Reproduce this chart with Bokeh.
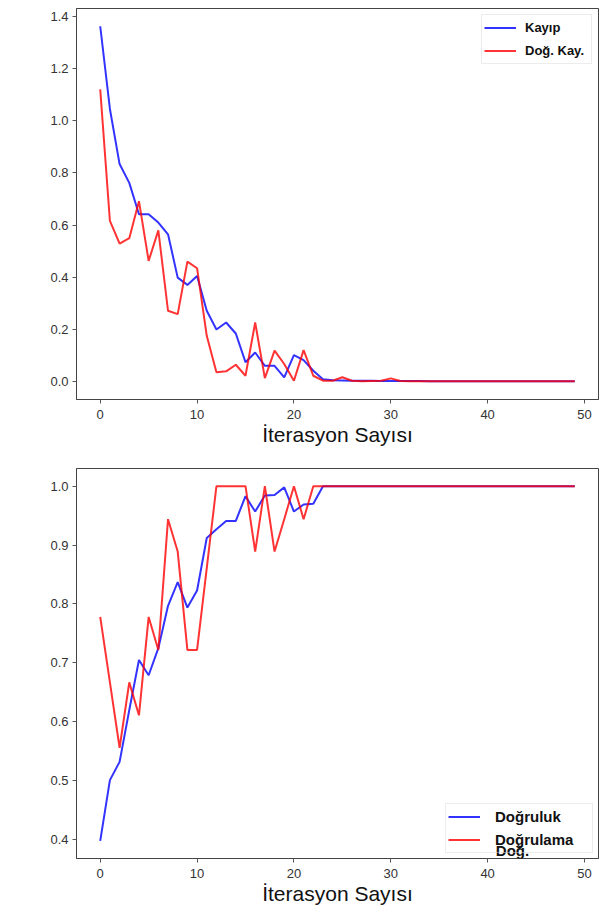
from bokeh.plotting import figure
from bokeh.models import Range1d, FixedTicker, Label, NumeralTickFormatter
from bokeh.layouts import column
from bokeh.embed import file_html
from bokeh.resources import INLINE

epochs = list(range(50))

loss = [1.362, 1.045, 0.834, 0.762, 0.642, 0.642, 0.610, 0.565, 0.399, 0.371,
        0.405, 0.272, 0.200, 0.227, 0.185, 0.075, 0.112, 0.061, 0.061, 0.017,
        0.102, 0.083, 0.042, 0.010, 0.006, 0.005, 0.004, 0.004, 0.004, 0.003,
        0.003, 0.003, 0.003, 0.003, 0.002, 0.002, 0.002, 0.002, 0.002, 0.002,
        0.002, 0.002, 0.002, 0.002, 0.002, 0.002, 0.002, 0.002, 0.002, 0.002]

val_loss = [1.120, 0.616, 0.529, 0.550, 0.692, 0.463, 0.580, 0.272, 0.259, 0.460,
            0.435, 0.176, 0.036, 0.040, 0.065, 0.023, 0.227, 0.014, 0.119, 0.068,
            0.004, 0.121, 0.023, 0.004, 0.004, 0.017, 0.004, 0.002, 0.003, 0.004,
            0.013, 0.003, 0.002, 0.002, 0.002, 0.002, 0.002, 0.002, 0.002, 0.002,
            0.002, 0.002, 0.002, 0.002, 0.002, 0.002, 0.002, 0.002, 0.002, 0.002]

acc = [0.398, 0.501, 0.532, 0.620, 0.705, 0.679, 0.725, 0.797, 0.837, 0.794,
       0.823, 0.912, 0.927, 0.941, 0.941, 0.983, 0.957, 0.984, 0.985, 0.998,
       0.957, 0.969, 0.970, 1.000, 1.000, 1.000, 1.000, 1.000, 1.000, 1.000,
       1.000, 1.000, 1.000, 1.000, 1.000, 1.000, 1.000, 1.000, 1.000, 1.000,
       1.000, 1.000, 1.000, 1.000, 1.000, 1.000, 1.000, 1.000, 1.000, 1.000]

val_acc = [0.778, 0.667, 0.556, 0.667, 0.611, 0.778, 0.722, 0.944, 0.889, 0.722,
           0.722, 0.861, 1.000, 1.000, 1.000, 1.000, 0.889, 1.000, 0.889, 0.944,
           1.000, 0.944, 1.000, 1.000, 1.000, 1.000, 1.000, 1.000, 1.000, 1.000,
           1.000, 1.000, 1.000, 1.000, 1.000, 1.000, 1.000, 1.000, 1.000, 1.000,
           1.000, 1.000, 1.000, 1.000, 1.000, 1.000, 1.000, 1.000, 1.000, 1.000]

x_ticks = [0, 10, 20, 30, 40, 50]
loss_ticks = [0.0, 0.2, 0.4, 0.6, 0.8, 1.0, 1.2, 1.4]
acc_ticks = [0.4, 0.5, 0.6, 0.7, 0.8, 0.9, 1.0]

x_label = "İterasyon Sayısı"
FONT = "Liberation Sans"


def style(p, yticks):
    p.xgrid.visible = False
    p.ygrid.visible = False
    p.outline_line_color = "#444444"
    p.outline_line_width = 1
    p.background_fill_color = "white"
    p.border_fill_color = "white"
    p.xaxis.ticker = FixedTicker(ticks=x_ticks)
    p.yaxis.ticker = FixedTicker(ticks=yticks)
    p.yaxis.formatter = NumeralTickFormatter(format="0.0")
    for ax in (p.xaxis[0], p.yaxis[0]):
        ax.axis_line_color = "#444444"
        ax.major_tick_line_color = "#555555"
        ax.major_tick_out = 4
        ax.major_tick_in = 0
        ax.minor_tick_line_color = None
        ax.major_label_text_font = FONT
        ax.major_label_text_font_size = "13px"
        ax.major_label_text_color = "#333333"
    p.xaxis.major_label_standoff = 6
    p.yaxis.major_label_standoff = 4
    p.xaxis.axis_label = x_label
    p.xaxis.axis_label_text_font = FONT
    p.xaxis.axis_label_text_font_size = "21px"
    p.xaxis.axis_label_text_font_style = "normal"
    p.xaxis.axis_label_text_color = "#111111"
    p.xaxis.axis_label_standoff = 1


def style_legend(lg, font_size, label_width, standoff):
    lg.padding = 2
    lg.spacing = 2
    lg.glyph_width = 32
    lg.glyph_height = 21
    lg.label_height = 21
    lg.label_width = label_width
    lg.label_standoff = standoff
    lg.label_text_font = FONT
    lg.label_text_font_size = font_size
    lg.label_text_font_style = "bold"
    lg.label_text_color = "#111111"
    lg.border_line_color = "#d9d9d9"


p1 = figure(width=600, height=460, x_range=Range1d(-2.45, 51.45),
            y_range=Range1d(-0.068, 1.43), output_backend="svg",
            toolbar_location=None, min_border_left=76, min_border_right=2,
            min_border_top=8, min_border_bottom=61)
style(p1, loss_ticks)
p1.line(epochs, loss, line_color="blue", line_width=2, line_alpha=0.8, legend_label="Kayıp")
p1.line(epochs, val_loss, line_color="red", line_width=2, line_alpha=0.8, legend_label="Doğ. Kay.")
lg1 = p1.legend[0]
lg1.location = "top_right"
lg1.margin = 6
style_legend(lg1, "13px", 64, 9)
lg1.background_fill_alpha = 0.8

p2 = figure(width=600, height=452, x_range=Range1d(-2.45, 51.45),
            y_range=Range1d(0.368, 1.030), output_backend="svg",
            toolbar_location=None, min_border_left=76, min_border_right=2,
            min_border_top=8, min_border_bottom=54)
style(p2, acc_ticks)
p2.line(epochs, acc, line_color="blue", line_width=2, line_alpha=0.8, legend_label="Doğruluk")
p2.line(epochs, val_acc, line_color="red", line_width=2, line_alpha=0.8, legend_label="Doğrulama")
lg2 = p2.legend[0]
lg2.location = "bottom_right"
lg2.margin = 5
style_legend(lg2, "15px", 95, 15)
lg2.background_fill_alpha = 0.0

overflow = Label(x=40.85, y=0.381, text="Doğ.", text_font=FONT, text_font_size="15px",
                 text_font_style="bold", text_color="#111111", text_baseline="middle",
                 text_align="left", level="overlay")
p2.add_layout(overflow)

layout = column(p1, p2, spacing=0)
open("out.html", "w").write(file_html(layout, INLINE))
